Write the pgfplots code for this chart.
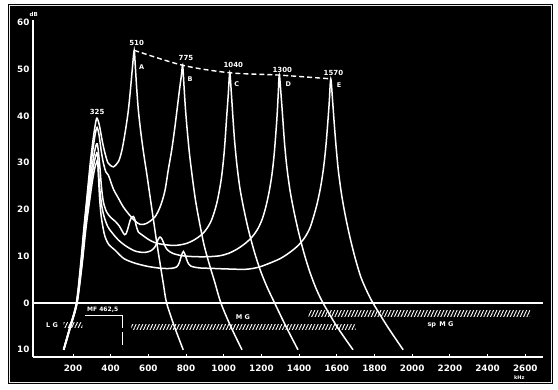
\documentclass[border=0pt]{standalone}
\usepackage{fontspec}
\setmainfont{DejaVu Sans}
\usepackage{pgfplots}
\pgfplotsset{compat=1.18}
\usetikzlibrary{patterns.meta}
\tikzset{
  lab/.style={white, font=\fontsize{7}{8}\selectfont\bfseries, inner sep=0pt},
  ltr/.style={white, font=\fontsize{6.5}{7}\selectfont\bfseries, inner sep=0pt},
}
\begin{document}
\begin{tikzpicture}
\path[use as bounding box] (0,0) rectangle (558pt,389pt);
\fill[white] (0,0) rectangle (558pt,389pt);
\fill[black] (8pt,5pt) rectangle (553pt,385pt);
\draw[white!92!black, line width=1.2pt] (9.5pt,6.5pt) rectangle (551.5pt,383.5pt);
\begin{axis}[
  at={(33pt,32pt)}, anchor=south west,
  scale only axis, width=510pt, height=337.1pt,
  xmin=-12, xmax=2694, ymin=-11.54, ymax=60.5,
  axis lines*=left,
  axis line style={white, line width=1.2pt},
  xtick={200,400,...,2600},
  xticklabels={200,400,600,800,1000,1200,1400,1600,1800,2000,2200,2400,2600},
  ytick={-10,0,10,20,30,40,50,60},
  yticklabels={10,0,10,20,30,40,50,60},
  tick align=inside,
  major tick length=2.5pt,
  xtick style={white, line width=0.8pt},
  ytick style={draw=none},
  ticklabel style={white, font=\fontsize{8.8}{10}\selectfont\bfseries},
  xticklabel style={yshift=-4pt},
  clip=false,
  curve/.style={white, line width=1.5pt, smooth, tension=0.5, mark=none},
]
% zero line
\addplot[white, line width=1.2pt, mark=none] coordinates {(-12,0) (2694,0)};

% curve A
\addplot[curve] coordinates {(150,-10) (185,-5) (218,0) (240,8) (258,16) (275,23) (292,30) (307,35) (318,38) (327,39.5) (340,38) (356,34.5) (370,32) (385,30) (396,29.5) (415,29.1) (441,30.2) (456,32) (467,34.1) (481,37.5) (494,41.2) (506,46) (516,50.5) (525,54) (531,50.5) (538,46) (547,41.2) (560,36.5) (575,32) (592,27.5) (610,22.5) (628,17.5) (645,12.8) (662,8.5) (680,4) (697,0) (738,-5) (785,-10)};
% curve B
\addplot[curve] coordinates {(150,-10) (185,-5) (219,0) (242,8) (260,16) (278,23) (295,29.5) (310,34) (320,36.5) (328,37.5) (338,36) (350,32.5) (362,29.8) (375,28) (388,27.3) (400,26) (415,24.3) (441,22.4) (466,20.6) (494,19.1) (525,17.7) (556,16.8) (590,17) (635,18.4) (665,20.8) (688,24) (706,28.5) (724,32.7) (739,37) (752,41.2) (765,45.5) (775,48.5) (782,50.8) (789,46.5) (796,42) (805,37.5) (818,32) (833,27) (850,22) (870,17.5) (895,12.5) (922,8.5) (952,4.5) (985,0) (1037,-5) (1097,-10)};
% curve C
\addplot[curve] coordinates {(150,-10) (186,-5) (220,0) (244,8) (263,16) (281,23) (299,28.5) (313,32) (322,33.6) (329,34) (336,32) (344,28.5) (352,24.5) (362,21.5) (378,19.5) (400,18.3) (423,17.5) (445,16.5) (462,15.3) (474,14.6) (482,14.8) (492,16) (503,17.6) (512,18.3) (520,18.5) (528,17.9) (537,16.3) (548,15.1) (565,14.6) (600,13.6) (635,12.9) (680,12.5) (741,12.3) (800,12.7) (848,13.6) (895,15.1) (933,17.5) (963,21.3) (987,26.5) (1003,32.5) (1016,40) (1024,44.5) (1032,49.2) (1041,44.5) (1049,39.5) (1058,34.5) (1070,29.5) (1086,24.5) (1107,20) (1132,15.5) (1162,11) (1194,7) (1229,3.5) (1270,0) (1330,-5) (1394,-10)};
% curve D
\addplot[curve] coordinates {(151,-10) (187,-5) (221,0) (246,8) (266,16) (285,22.5) (302,27.5) (315,30.5) (323,31.7) (330,32) (335,28.5) (342,24.5) (352,21) (365,18.5) (385,16.3) (410,14.9) (440,13.5) (480,12.2) (530,11.1) (580,10.8) (615,11.2) (637,12.1) (651,13.5) (662,14.1) (673,13.6) (686,12.4) (700,11.4) (730,10.6) (780,10.1) (848,9.9) (920,9.9) (980,10.1) (1025,10.6) (1070,11.5) (1113,12.7) (1150,14.1) (1180,15.8) (1205,18) (1225,20.8) (1242,24) (1256,27.5) (1267,31.5) (1276,36) (1283,40) (1289,44.5) (1295,48.7) (1305,44) (1314,39) (1323,34) (1335,29) (1352,24) (1373,19.5) (1398,15) (1427,10.5) (1458,6.5) (1491,3) (1527,0) (1600,-5) (1686,-10)};
% curve E
\addplot[curve] coordinates {(152,-10) (188,-5) (222,0) (248,8) (269,16) (289,22) (305,26.5) (317,29) (325,30) (331,30.3) (336,26.5) (342,22) (350,18.5) (360,16) (370,14.2) (390,12.5) (423,11.3) (470,9.5) (530,8.5) (600,7.8) (671,7.4) (720,7.4) (750,7.7) (764,8.6) (776,10.2) (786,11) (796,10.2) (808,8.8) (825,7.9) (870,7.5) (936,7.4) (1000,7.3) (1113,7.2) (1180,7.6) (1237,8.4) (1300,9.5) (1350,10.8) (1395,12.3) (1430,14) (1457,16) (1477,18.5) (1496,21.3) (1515,25) (1530,29) (1542,33.5) (1552,38.5) (1560,43) (1568,47.9) (1578,43) (1587,38) (1597,33) (1609,28) (1626,23) (1646,18.5) (1670,14) (1698,9.5) (1728,5.5) (1760,2.5) (1792,0) (1868,-5) (1952,-10)};

% dashed envelope through the tuned peaks
\addplot[white, line width=1.4pt, dash pattern=on 5pt off 3pt, smooth, mark=none] coordinates {(525,54) (782,50.8) (1032,49.2) (1295,48.7) (1568,47.9)};

% peak labels
\node[lab] at (axis cs:328,40.8) {325};
\node[lab] at (axis cs:538,55.6) {510};
\node[ltr] at (axis cs:565,50.3) {A};
\node[lab] at (axis cs:800,52.4) {775};
\node[ltr] at (axis cs:821,47.9) {B};
\node[lab] at (axis cs:1051,50.9) {1040};
\node[ltr] at (axis cs:1069,46.7) {C};
\node[lab] at (axis cs:1311,49.9) {1300};
\node[ltr] at (axis cs:1343,46.7) {D};
\node[lab] at (axis cs:1582,49.2) {1570};
\node[ltr] at (axis cs:1612,46.6) {E};

% wave bands
\fill[pattern={Lines[angle=65,distance=3pt,line width=0.9pt]}, pattern color=white] (axis cs:150,-5.3) rectangle (axis cs:250,-4.1);
\fill[pattern={Lines[angle=65,distance=3pt,line width=0.9pt]}, pattern color=white] (axis cs:510,-5.6) rectangle (axis cs:1700,-4.5);
\fill[pattern={Lines[angle=65,distance=3pt,line width=0.9pt]}, pattern color=white] (axis cs:1450,-2.8) rectangle (axis cs:2626,-1.7);
\node[ltr] at (axis cs:89,-4.7) {L G};
\node[ltr] at (axis cs:1102,-3.1) {M G};
\node[ltr] at (axis cs:2150,-4.6) {sp\enspace M G};
\node[ltr, font=\fontsize{6}{7}\selectfont\bfseries] at (axis cs:358,-1.5) {MF 462,5};
\addplot[white, line width=1pt, sharp plot, mark=none] coordinates {(264,-2.7) (462.5,-2.7) (462.5,-5.3)};
\addplot[white, line width=1.3pt, sharp plot, mark=none] coordinates {(462.5,-6.2) (462.5,-9)};

% units
\node[white, font=\fontsize{5.5}{6}\selectfont\bfseries, inner sep=0pt] at (axis cs:-8,61.6) {dB};
\node[white, font=\fontsize{5}{6}\selectfont\bfseries, inner sep=0pt] at (axis cs:2568,-16) {kHz};
\end{axis}
\end{tikzpicture}
\end{document}
